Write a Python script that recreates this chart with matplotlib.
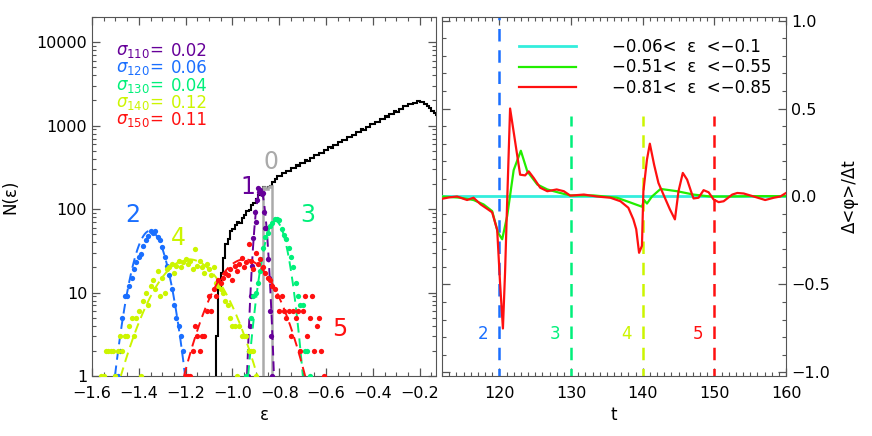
import numpy as np
import matplotlib
matplotlib.use("Agg")
import matplotlib.pyplot as plt
from matplotlib.ticker import FixedLocator, MultipleLocator, NullFormatter, FuncFormatter

# ── data: left panel ───────────────────────────────────────────────────────
# full histogram N(eps), bins of 0.01 starting at -1.07
HIST_EDGE0 = -1.07
HIST_BIN = 0.01
HIST_COUNTS = [
    3, 12, 17, 26, 38, 44, 54, 58, 64, 70,
    68, 78, 84, 96, 98, 112, 118, 132, 148, 160,
    182, 176, 185, 190,                      # -0.87 .. -0.83 (grey part)
    212, 232, 250, 249, 270, 268, 289, 287, 312, 308,
    333, 331, 360, 355, 385, 381, 413, 410, 445, 440,
    476, 472, 512, 506, 548, 545, 590, 584, 632, 628,
    680, 674, 729, 724, 782, 776, 840, 834, 902, 895,
    968, 962, 1040, 1032, 1116, 1108, 1198, 1190, 1287, 1277,
    1381, 1371, 1482, 1472, 1592, 1581, 1709, 1697, 1830, 1800,
    1880, 1860, 1950, 1930, 1910, 1830, 1720, 1610, 1480, 1400,
    1330,
]
GREY_RANGE = (-0.87, -0.83)

# coloured subsets: bin centres start / step, counts
SUB_START = [-0.935, -1.50, -0.94, -1.56, -1.20]
SUB_STEP = [0.005, 0.01, 0.01, 0.01, 0.01]
SUB_COUNTS = [
    # 1 : t = 110
    [1, 2, 4, 9, 21, 45, 93, 70, 128, 177, 160, 168, 150, 155, 93, 60, 59, 25,
     15, 6, 3, 1],
    # 2 : t = 120
    [1, 1, 2, 5, 9, 9, 12, 15, 19, 23, 27, 29, 36, 43, 47, 54, 52, 55, 46, 43,
     35, 27, 21, 16, 11, 7, 5, 4, 3, 2],
    # 3 : t = 130
    [1, 2, 5, 9, 10, 13, 18, 34, 46, 52, 63, 68, 77, 76, 73, 58, 49, 44, 34, 27,
     20, 13, 9, 7, 7, 2, 2, 1],
    # 4 : t = 140
    [1, 1, 2, 2, 2, 2, 1, 2, 3, 2, 3, 3, 4, 5, 3, 5, 6, 1, 8, 10,
     7, 12, 14, 11, 18, 9, 15, 10, 19, 20, 22, 17, 21, 24, 20, 23, 25, 22, 24, 19,
     33, 21, 24, 20, 17, 22, 19, 16, 20, 13, 12, 11, 10, 8, 7, 5, 4, 4, 1, 4,
     3, 3, 3, 2, 2, 2, 1],
    # 5 : t = 150
    [1, 1, 1, 2, 4, 3, 2, 3, 3, 6, 9, 6, 11, 9, 14, 13, 15, 17, 16, 19,
     14, 21, 18, 22, 26, 20, 23, 38, 24, 19, 30, 22, 25, 20, 17, 15, 14, 12, 11, 9,
     6, 9, 6, 5, 6, 3, 6, 5, 6, 2, 6, 9, 3, 5, 9, 2, 4, 5, 2, 1],
]
# gaussian fits (peak, centre, width)
FIT_PEAK = [168, 55, 72, 25, 25]
FIT_CENTRE = [-0.880, -1.352, -0.816, -1.185, -0.948]
FIT_WIDTH = [0.018, 0.053, 0.040, 0.115, 0.102]

SIGMA_T = ["110", "120", "130", "140", "150"]
SIGMA_VAL = ["0.02", "0.06", "0.04", "0.12", "0.11"]
SUB_LABEL = ["1", "2", "3", "4", "5"]
LABEL_EPS = [-0.934, -1.424, -0.678, -1.232, -0.542]
LABEL_N = [185, 85, 85, 45, 3.7]
COLORS = ["#660099", "#1a6fff", "#00f07a", "#ccf500", "#ff1010"]

# ── data: right panel ──────────────────────────────────────────────────────
CYAN_T = [112, 120, 130, 140, 150, 160]
CYAN_V = [0.0, 0.0, 0.0, 0.0, 0.0, 0.0]

GREEN_T = [112.0, 114.6, 116.4, 117.8, 119.0, 119.8, 120.4, 121.1, 122.0, 123.0,
           123.9, 125.3, 126.7, 128.5, 129.9, 133.2, 136.4, 137.8, 139.9, 140.2,
           140.6, 141.3, 142.5, 144.8, 147.1, 149.4, 152.0, 155.0, 160.0]
GREEN_V = [0.0, -0.007, -0.02, -0.045, -0.083, -0.205, -0.243, -0.11, 0.15, 0.26,
           0.143, 0.068, 0.04, 0.02, 0.006, 0.006, -0.007, -0.027, -0.058, -0.02,
           -0.04, 0.0, 0.043, 0.03, 0.011, 0.0, 0.0, 0.002, 0.002]

RED_T = [112.0, 113.0, 114.1, 115.5, 116.4, 117.4, 118.3, 119.0, 119.7, 120.1,
         120.5, 120.8, 121.1, 121.5, 122.1, 122.9, 123.6, 124.1, 124.8, 125.7,
         126.7, 128.0, 129.0, 129.9, 131.8, 133.6, 135.5, 136.9, 138.0, 138.7,
         139.1, 139.5, 139.9, 140.1, 140.6, 141.0, 141.6, 142.2, 142.9, 143.8,
         144.5, 145.0, 145.6, 146.2, 146.9, 147.1, 147.8, 148.5, 149.2, 149.9,
         150.6, 151.3, 152.5, 153.2, 154.1, 155.5, 157.1, 158.3, 159.2, 160.0]
RED_V = [-0.013, -0.005, 0.0, -0.02, -0.007, -0.045, -0.07, -0.09, -0.19, -0.49,
         -0.75, -0.43, -0.02, 0.50, 0.34, 0.124, 0.12, 0.143, 0.105, 0.05,
         0.03, 0.04, 0.03, 0.005, 0.011, 0.0, -0.007, -0.027, -0.064, -0.13,
         -0.186, -0.32, -0.28, 0.03, 0.21, 0.30, 0.18, 0.077, 0.011, -0.073,
         -0.13, 0.03, 0.134, 0.096, 0.011, -0.011, -0.007, 0.036, 0.024, -0.017,
         -0.032, -0.027, 0.011, 0.02, 0.017, 0.0, -0.02, -0.007, 0.0, 0.02]

LEGEND = ["\u22120.06<  \u03b5  <\u22120.1",
          "\u22120.51<  \u03b5  <\u22120.55",
          "\u22120.81<  \u03b5  <\u22120.85"]
LINE_COLORS = ["#33eedd", "#22ee00", "#ff1010"]

VLINE_T = [120, 130, 140, 150]
VLINE_TOP = [1.05, 0.46, 0.46, 0.46]
VLINE_LABEL_T = [117.7, 127.7, 137.7, 147.7]
VLINE_COLORS = COLORS[1:]

# ── figure ─────────────────────────────────────────────────────────────────
plt.rcParams["font.family"] = "DejaVu Sans"
plt.rcParams["axes.edgecolor"] = "#555555"
plt.rcParams["xtick.color"] = "#555555"
plt.rcParams["ytick.color"] = "#555555"
plt.rcParams["xtick.labelcolor"] = "black"
plt.rcParams["ytick.labelcolor"] = "black"

fig = plt.figure(figsize=(8.72, 4.36), dpi=100)
ax1 = fig.add_axes([92 / 872, 60 / 436, 344 / 872, 359 / 436])
ax2 = fig.add_axes([442 / 872, 60 / 436, 344 / 872, 359 / 436])

# left: histogram
edges = HIST_EDGE0 + HIST_BIN * np.arange(len(HIST_COUNTS) + 1)
counts = np.array(HIST_COUNTS, dtype=float)
ax1.stairs(counts, edges, baseline=1, color="black", lw=1.5, zorder=3)
g = (edges[:-1] >= GREY_RANGE[0] - 1e-9) & (edges[:-1] < GREY_RANGE[1] - 1e-9)
gi = np.where(g)[0]
ax1.stairs(counts[gi], edges[gi[0]:gi[-1] + 2], baseline=1, color="#aaaaaa",
           lw=1.8, zorder=4)
ax1.text(-0.834, 368, "0", color="#aaaaaa", fontsize=17, ha="center", va="center")

for i in range(5):
    n = len(SUB_COUNTS[i])
    xe = SUB_START[i] + SUB_STEP[i] * np.arange(n)
    ax1.plot(xe, SUB_COUNTS[i], "o", ms=3.8, color=COLORS[i], mec="none", zorder=5)
    xf = np.linspace(FIT_CENTRE[i] - 4 * FIT_WIDTH[i], FIT_CENTRE[i] + 4 * FIT_WIDTH[i], 200)
    yf = FIT_PEAK[i] * np.exp(-(xf - FIT_CENTRE[i]) ** 2 / (2 * FIT_WIDTH[i] ** 2))
    ax1.plot(xf, yf, color=COLORS[i], lw=1.4, ls=(0, (5, 3)), zorder=5)
    ax1.text(LABEL_EPS[i], LABEL_N[i], SUB_LABEL[i], color=COLORS[i], fontsize=17,
             ha="center", va="center")
    ax1.text(0.07, 0.905 - i * 0.048, r"$\sigma_{%s}$= " % SIGMA_T[i],
             transform=ax1.transAxes, color=COLORS[i], fontsize=12, ha="left", va="center")
    ax1.text(0.23, 0.905 - i * 0.048, SIGMA_VAL[i], transform=ax1.transAxes,
             color=COLORS[i], fontsize=12, ha="left", va="center")

ax1.set_yscale("log")
ax1.set_xlim(-1.6, -0.13)
ax1.set_ylim(1, 20000)
ax1.xaxis.set_major_locator(MultipleLocator(0.2))
ax1.xaxis.set_minor_locator(MultipleLocator(0.05))
ax1.xaxis.set_major_formatter(FuncFormatter(lambda v, p: f"{v:.1f}".replace("-", "\u2212")))
ax1.yaxis.set_major_locator(FixedLocator([1, 10, 100, 1000, 10000]))
ax1.yaxis.set_major_formatter(FuncFormatter(lambda v, p: f"{v:.0f}"))
ax1.yaxis.set_minor_formatter(NullFormatter())
ax1.set_xlabel("\u03b5", fontsize=12, labelpad=4)
ax1.set_ylabel("N(\u03b5)", fontsize=12, labelpad=12)

# right: time derivative
for t, top, c in zip(VLINE_T, VLINE_TOP, VLINE_COLORS):
    ax2.plot([t, t], [-1.05, top], color=c, lw=1.8, ls=(0, (5, 3.5)), zorder=2)
for t, lab, c in zip(VLINE_LABEL_T, SUB_LABEL[1:], VLINE_COLORS):
    ax2.text(t, -0.78, lab, color=c, fontsize=12, ha="center", va="center")

ax2.plot(CYAN_T, CYAN_V, color=LINE_COLORS[0], lw=2, label=LEGEND[0], zorder=3)
ax2.plot(GREEN_T, GREEN_V, color=LINE_COLORS[1], lw=1.6, label=LEGEND[1], zorder=4)
ax2.plot(RED_T, RED_V, color=LINE_COLORS[2], lw=1.6, label=LEGEND[2], zorder=5)
ax2.legend(loc="upper left", bbox_to_anchor=(0.2, 0.965), frameon=False,
           fontsize=12, handlelength=3.4, handletextpad=2.2, labelspacing=0.15,
           borderpad=0)

ax2.set_xlim(112, 160)
ax2.set_ylim(-1.02, 1.02)
ax2.xaxis.set_major_locator(FixedLocator([120, 130, 140, 150, 160]))
ax2.xaxis.set_minor_locator(MultipleLocator(1))
ax2.yaxis.set_major_locator(MultipleLocator(0.5))
ax2.yaxis.set_minor_locator(MultipleLocator(0.1))
ax2.yaxis.set_major_formatter(FuncFormatter(lambda v, p: f"{v:.1f}".replace("-", "\u2212")))
ax2.yaxis.tick_right()
ax2.yaxis.set_label_position("right")
ax2.set_xlabel("t", fontsize=12, labelpad=4)
ax2.set_ylabel("\u0394<\u03c6>/\u0394t", fontsize=12, labelpad=8)

for ax in (ax1, ax2):
    ax.tick_params(which="both", direction="in", top=True, bottom=True, left=True,
                   right=True, labelsize=11.5)
    ax.tick_params(which="major", length=6, width=0.9)
    ax.tick_params(which="minor", length=3, width=0.8)
ax2.tick_params(labelleft=False, labelright=True)
ax1.tick_params(axis="x", pad=7)
ax2.tick_params(axis="x", pad=7)

fig.savefig("out.png", dpi=100)
